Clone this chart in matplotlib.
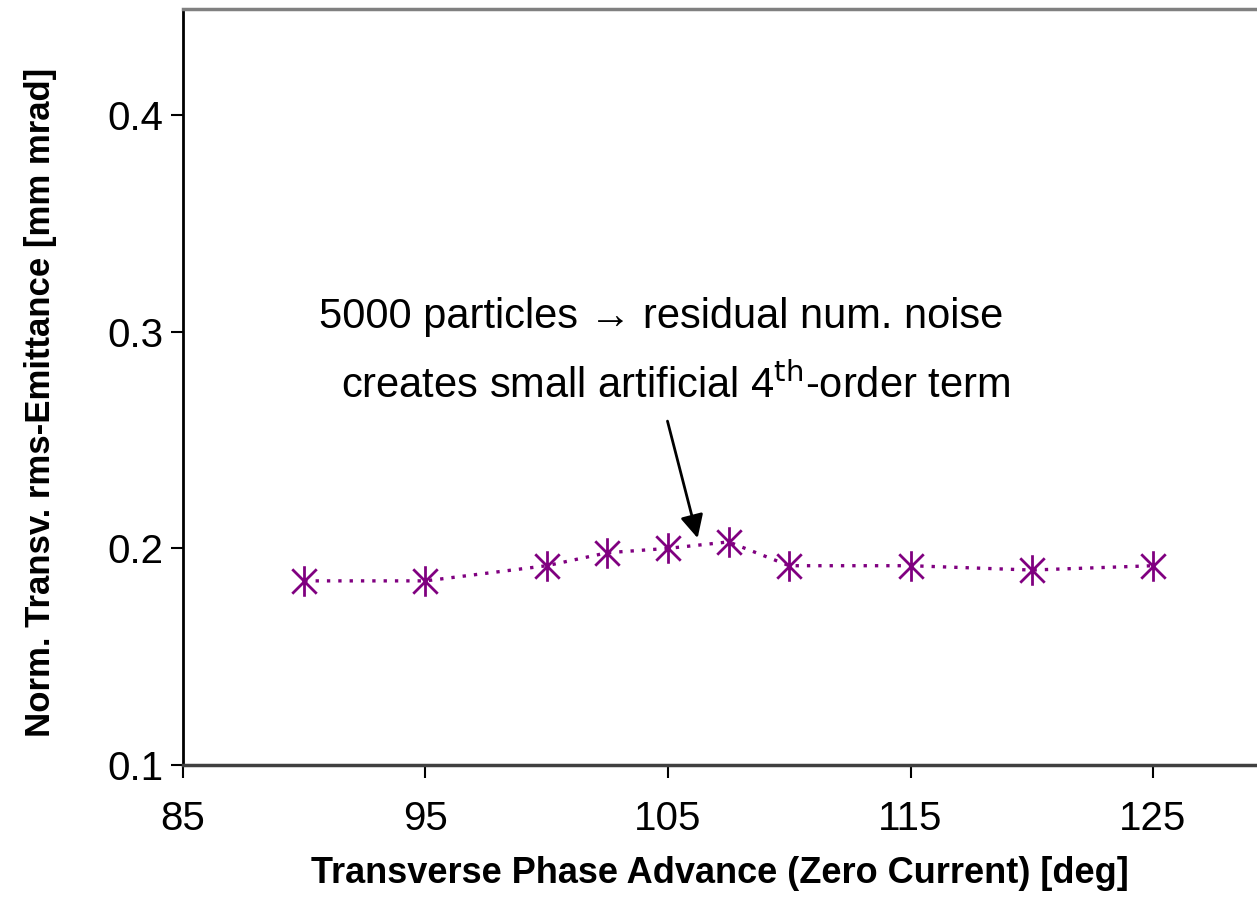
import numpy as np
import matplotlib.pyplot as plt
from matplotlib.path import Path

plt.rcParams['font.family'] = ['Liberation Sans', 'DejaVu Sans']

# data
phase_adv = [90, 95, 100, 102.5, 105, 107.5, 110, 115, 120, 125]
emittance = [0.185, 0.185, 0.192, 0.198, 0.200, 0.203, 0.192, 0.192, 0.190, 0.192]
x_ticks = [85, 95, 105, 115, 125]
y_ticks = [0.1, 0.2, 0.3, 0.4]

# excel style star marker: vertical bar plus an X
star = Path([(0, -1), (0, 1), (-0.8, -0.8), (0.8, 0.8), (-0.8, 0.8), (0.8, -0.8)],
            [Path.MOVETO, Path.LINETO, Path.MOVETO, Path.LINETO, Path.MOVETO, Path.LINETO])

fig = plt.figure(figsize=(12.57, 9.17), dpi=100)
ax = fig.add_axes([183 / 1257, 1 - 765 / 917, 1 - 183 / 1257, (765 - 9) / 917])

ax.plot(phase_adv, emittance, color='#800080', linestyle=(0, (1, 2.4)), linewidth=2.4,
        marker=star, markersize=22, markeredgewidth=2, markerfacecolor='none',
        markeredgecolor='#800080')

ax.set_xlim(85, 85 + (1257 - 183) / 24.25)
ax.set_ylim(0.1, 0.449)
ax.set_xticks(x_ticks)
ax.set_yticks(y_ticks)
ax.set_yticklabels(['0.1', '0.2', '0.3', '0.4'])
ax.tick_params(axis='both', direction='out', length=9, width=1.5, labelsize=29, colors='black')
ax.tick_params(axis='x', pad=16)
ax.tick_params(axis='y', pad=5)

ax.spines['right'].set_visible(False)
ax.spines['left'].set_color('black')
ax.spines['left'].set_linewidth(2)
ax.spines['bottom'].set_color('#404040')
ax.spines['bottom'].set_linewidth(2.5)
ax.spines['top'].set_color('#808080')
ax.spines['top'].set_linewidth(2.5)

ax.set_xlabel('Transverse Phase Advance (Zero Current) [deg]', fontsize=26,
              fontweight='bold', labelpad=13)
ax.set_ylabel('Norm. Transv. rms-Emittance [mm mrad]', fontsize=25,
              fontweight='bold', labelpad=36)
ax.yaxis.set_label_coords(-0.117, 0.48)

ax.text(104.71, 0.3018, '5000 particles \u2192 residual num. noise', fontsize=30,
        ha='center', va='baseline')
ax.text(105.29, 0.2695, 'creates small artificial 4$^{\\mathrm{th}}$-order term', fontsize=30,
        ha='center', va='baseline')
ax.annotate('', xy=(106.25, 0.2035), xytext=(104.95, 0.26),
            arrowprops=dict(arrowstyle='-|>', color='black', lw=2, mutation_scale=35))

fig.savefig('out.png', dpi=100)
